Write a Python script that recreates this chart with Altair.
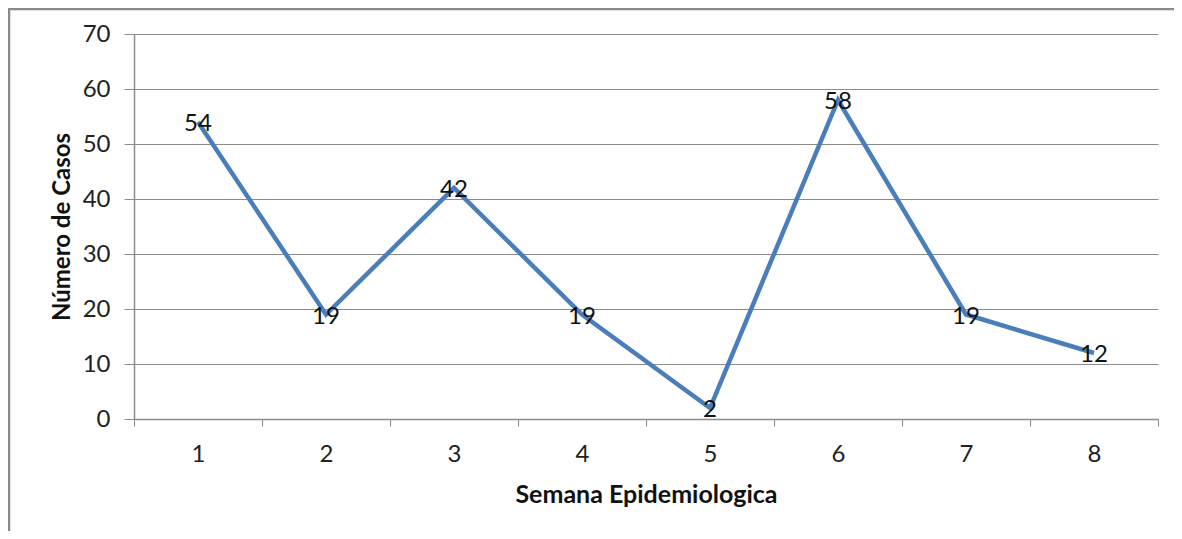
import altair as alt
import pandas as pd

weeks = [1, 2, 3, 4, 5, 6, 7, 8]
cases = [54, 19, 42, 19, 2, 58, 19, 12]
y_ticks = [0, 10, 20, 30, 40, 50, 60, 70]

df = pd.DataFrame({"week": weeks, "cases": cases})

W, H = 1024, 385
FONT = "Lato"
GRAY = "#8c8c8c"

xenc = alt.X(
    "week:O",
    bandPosition=0.5,
    scale=alt.Scale(type="band", paddingInner=0, paddingOuter=0),
    axis=alt.Axis(
        title="Semana Epidemiologica",
        labelAngle=0,
        tickBand="extent",
        tickSize=7,
        tickColor=GRAY,
        domainColor=GRAY,
        domainWidth=1.5,
        labelPadding=16,
        labelFontSize=24,
        labelFont=FONT,
        labelColor="#222222",
        titleFont=FONT,
        titleFontSize=25,
        titleFontWeight="bold",
        titleColor="#111111",
        titleY=63,
        grid=False,
    ),
)
yenc = alt.Y(
    "cases:Q",
    scale=alt.Scale(domain=[0, 70]),
    axis=alt.Axis(
        title="Número de Casos",
        values=y_ticks,
        tickSize=10,
        tickColor=GRAY,
        domainColor=GRAY,
        domainWidth=1.5,
        gridColor=GRAY,
        gridWidth=1.2,
        labelPadding=14,
        labelFontSize=24,
        labelFont=FONT,
        labelColor="#222222",
        titleFont=FONT,
        titleFontSize=24,
        titleFontWeight="bold",
        titleColor="#111111",
        titleX=-72,
        titleY=H / 2,
        titleBaseline="middle",
    ),
)

base = alt.Chart(df)
line = base.mark_line(color="#4a7ebb", strokeWidth=4.5).encode(x=xenc, y=yenc)
labels = base.mark_text(
    fontSize=24, font=FONT, color="#111111", baseline="middle", align="center", dy=2, dx=0
).encode(x=alt.X("week:O", bandPosition=0.5), y="cases:Q", text="cases:Q")

border = (
    alt.Chart(pd.DataFrame({"a": [0]}))
    .mark_rule(color="#8a8a8a", strokeWidth=2.5, clip=False)
)
left_b = border.encode(x=alt.value(-125), y=alt.value(-26), y2=alt.value(H + 130))
top_b = border.encode(x=alt.value(-126), x2=alt.value(W + 30), y=alt.value(-25))

chart = (
    alt.layer(line, labels, left_b, top_b)
    .properties(width=W, height=H, padding={"left": 126, "top": 26, "right": 16, "bottom": 112},
                autosize=alt.AutoSizeParams(type="none"))
    .configure_view(stroke=None)
)

chart.save("out.html", embed_options={"renderer": "svg", "actions": False})
